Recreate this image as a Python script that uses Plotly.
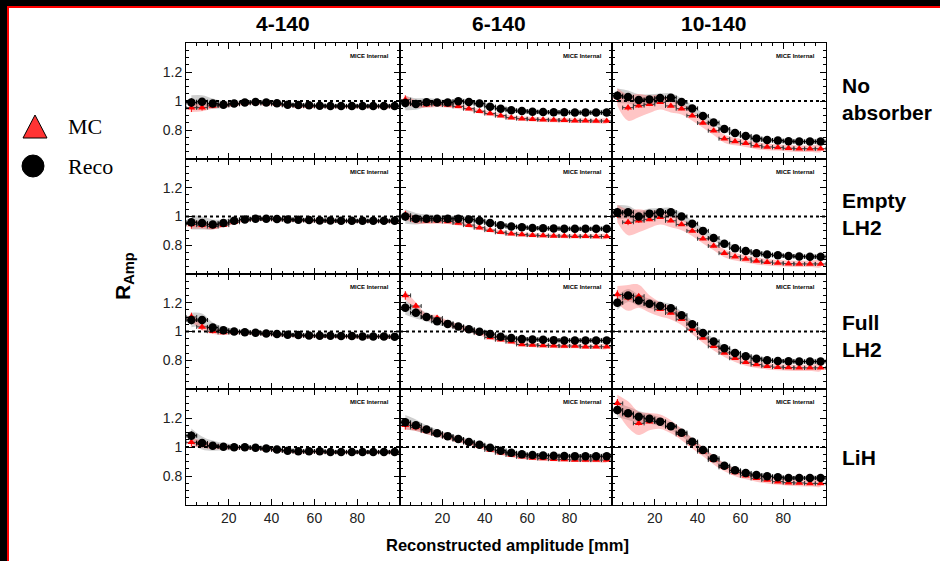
import plotly.graph_objects as go

W, H = 940, 561

amplitude = [2.5, 7.5, 12.5, 17.5, 22.5, 27.5, 32.5, 37.5, 42.5, 47.5,
             52.5, 57.5, 62.5, 67.5, 72.5, 77.5, 82.5, 87.5, 92.5, 97.5]
bin_half = [2.5] * 20

col_titles = ["4-140", "6-140", "10-140"]
row_titles = ["No<br>absorber", "Empty<br>LH2", "Full<br>LH2", "LiH"]
x_tick_vals = [20, 40, 60, 80]
y_tick_vals = [0.8, 1.0, 1.2]
y_tick_text = ["0.8", "1", "1.2"]

# ---- 4-140 ----
reco_noabs_4 = [0.989, 0.995, 0.982, 0.975, 0.982, 0.989, 0.993, 0.989, 0.984, 0.975,
                0.972, 0.970, 0.968, 0.966, 0.966, 0.966, 0.966, 0.966, 0.966, 0.966]
mc_noabs_4 = [0.954, 0.954, 0.966, 0.970, 0.977, 0.984, 0.989, 0.982, 0.977, 0.970,
              0.966, 0.964, 0.963, 0.962, 0.962, 0.962, 0.962, 0.962, 0.962, 0.962]
reco_empty_4 = [0.960, 0.955, 0.945, 0.955, 0.970, 0.980, 0.985, 0.985, 0.983, 0.980,
                0.977, 0.975, 0.973, 0.972, 0.971, 0.970, 0.970, 0.970, 0.970, 0.970]
mc_empty_4 = [0.945, 0.940, 0.930, 0.940, 0.960, 0.975, 0.982, 0.982, 0.980, 0.977,
              0.974, 0.972, 0.970, 0.969, 0.968, 0.967, 0.967, 0.967, 0.967, 0.967]
reco_full_4 = [1.080, 1.080, 1.028, 1.009, 1.000, 0.995, 0.991, 0.986, 0.982, 0.977,
               0.975, 0.972, 0.970, 0.970, 0.968, 0.968, 0.966, 0.966, 0.966, 0.963]
mc_full_4 = [1.101, 1.032, 1.002, 0.993, 0.995, 0.993, 0.989, 0.984, 0.980, 0.975,
             0.973, 0.970, 0.968, 0.968, 0.966, 0.966, 0.964, 0.964, 0.964, 0.962]
reco_lih_4 = [1.078, 1.028, 1.009, 1.002, 0.998, 0.998, 0.995, 0.989, 0.982, 0.975,
              0.970, 0.970, 0.970, 0.966, 0.966, 0.966, 0.966, 0.966, 0.966, 0.966]
mc_lih_4 = [1.032, 1.020, 1.005, 1.000, 0.996, 0.996, 0.993, 0.987, 0.980, 0.973,
            0.968, 0.968, 0.968, 0.964, 0.964, 0.964, 0.964, 0.964, 0.964, 0.964]

# ---- 6-140 ----
reco_noabs_6 = [0.986, 0.979, 0.991, 0.989, 0.989, 0.998, 0.993, 0.982, 0.961, 0.947,
                0.936, 0.931, 0.926, 0.924, 0.922, 0.922, 0.920, 0.920, 0.920, 0.920]
mc_noabs_6 = [1.009, 0.979, 0.975, 0.979, 0.972, 0.963, 0.947, 0.929, 0.913, 0.899,
              0.885, 0.878, 0.874, 0.871, 0.869, 0.867, 0.864, 0.864, 0.862, 0.862]
reco_empty_6 = [1.000, 0.985, 0.985, 0.985, 0.985, 0.985, 0.980, 0.970, 0.955, 0.940,
                0.930, 0.925, 0.920, 0.918, 0.916, 0.915, 0.914, 0.914, 0.914, 0.914]
mc_empty_6 = [1.010, 0.975, 0.970, 0.970, 0.965, 0.955, 0.940, 0.922, 0.905, 0.890,
              0.880, 0.874, 0.870, 0.867, 0.865, 0.864, 0.862, 0.862, 0.861, 0.861]
reco_full_6 = [1.166, 1.131, 1.101, 1.071, 1.053, 1.034, 1.016, 0.998, 0.982, 0.963,
               0.954, 0.947, 0.945, 0.943, 0.940, 0.938, 0.938, 0.938, 0.938, 0.938]
mc_full_6 = [1.251, 1.177, 1.101, 1.094, 1.057, 1.034, 1.011, 0.989, 0.959, 0.943,
             0.929, 0.910, 0.906, 0.903, 0.901, 0.899, 0.899, 0.894, 0.894, 0.894]
reco_lih_6 = [1.170, 1.150, 1.120, 1.095, 1.075, 1.055, 1.035, 1.015, 0.995, 0.975,
              0.960, 0.950, 0.945, 0.942, 0.940, 0.938, 0.937, 0.936, 0.936, 0.936]
mc_lih_6 = [1.150, 1.135, 1.110, 1.090, 1.070, 1.050, 1.030, 1.005, 0.980, 0.960,
            0.945, 0.932, 0.925, 0.920, 0.916, 0.913, 0.911, 0.910, 0.910, 0.910]

# ---- 10-140 ----
reco_noabs_10 = [1.037, 1.028, 1.007, 1.011, 1.021, 1.023, 0.993, 0.949, 0.897, 0.851,
                 0.807, 0.779, 0.759, 0.741, 0.731, 0.727, 0.722, 0.720, 0.720, 0.720]
mc_noabs_10 = [1.028, 0.954, 0.968, 0.977, 0.991, 0.966, 0.947, 0.899, 0.848, 0.795,
               0.740, 0.720, 0.708, 0.692, 0.683, 0.680, 0.674, 0.671, 0.671, 0.671]
reco_empty_10 = [1.030, 1.030, 1.000, 1.020, 1.030, 1.030, 1.000, 0.950, 0.900, 0.850,
                 0.810, 0.780, 0.760, 0.745, 0.735, 0.730, 0.725, 0.722, 0.720, 0.720]
mc_empty_10 = [1.020, 0.960, 0.970, 0.980, 0.995, 0.970, 0.945, 0.900, 0.845, 0.795,
               0.745, 0.720, 0.705, 0.690, 0.682, 0.676, 0.672, 0.670, 0.670, 0.670]
reco_full_10 = [1.200, 1.251, 1.216, 1.193, 1.177, 1.161, 1.113, 1.051, 0.989, 0.931,
                0.883, 0.851, 0.828, 0.811, 0.800, 0.795, 0.793, 0.791, 0.791, 0.791]
mc_full_10 = [1.257, 1.234, 1.246, 1.193, 1.154, 1.129, 1.085, 1.016, 0.954, 0.897,
              0.851, 0.814, 0.786, 0.770, 0.759, 0.752, 0.749, 0.747, 0.747, 0.747]
reco_lih_10 = [1.255, 1.232, 1.209, 1.195, 1.175, 1.143, 1.099, 1.037, 0.979, 0.922,
               0.871, 0.839, 0.821, 0.807, 0.798, 0.791, 0.786, 0.786, 0.786, 0.786]
mc_lih_10 = [1.301, 1.225, 1.163, 1.175, 1.175, 1.140, 1.087, 1.025, 0.968, 0.910,
             0.860, 0.825, 0.802, 0.784, 0.772, 0.761, 0.754, 0.752, 0.749, 0.749]

# systematic band half-widths (per amplitude range)
band_reco_4 = [0.050, 0.045, 0.035, 0.025, 0.020, 0.015, 0.012, 0.010, 0.010, 0.010,
               0.010, 0.010, 0.010, 0.010, 0.010, 0.010, 0.010, 0.010, 0.010, 0.010]
band_mc_4 = [0.030, 0.025, 0.020, 0.015, 0.012, 0.010, 0.010, 0.010, 0.010, 0.010,
             0.010, 0.010, 0.010, 0.010, 0.010, 0.010, 0.010, 0.010, 0.010, 0.010]
band_reco_6 = [0.050, 0.040, 0.030, 0.025, 0.020, 0.020, 0.018, 0.016, 0.015, 0.015,
               0.015, 0.015, 0.015, 0.015, 0.015, 0.015, 0.015, 0.015, 0.015, 0.015]
band_mc_6 = [0.030, 0.025, 0.022, 0.020, 0.018, 0.018, 0.016, 0.015, 0.015, 0.015,
             0.015, 0.015, 0.015, 0.015, 0.015, 0.015, 0.015, 0.015, 0.015, 0.015]
band_reco_10 = [0.050, 0.045, 0.040, 0.035, 0.030, 0.030, 0.025, 0.022, 0.020, 0.020,
                0.018, 0.018, 0.016, 0.016, 0.015, 0.015, 0.015, 0.015, 0.015, 0.015]
band_mc_10 = [0.060, 0.090, 0.080, 0.060, 0.050, 0.045, 0.040, 0.035, 0.032, 0.030,
              0.028, 0.026, 0.025, 0.024, 0.023, 0.022, 0.022, 0.022, 0.022, 0.022]

# statistical error bars
stat_err = [0.030, 0.020, 0.015, 0.012, 0.010, 0.010, 0.010, 0.010, 0.010, 0.010,
            0.008, 0.008, 0.008, 0.008, 0.008, 0.008, 0.008, 0.008, 0.008, 0.008]

reco_grid = [[reco_noabs_4, reco_noabs_6, reco_noabs_10],
             [reco_empty_4, reco_empty_6, reco_empty_10],
             [reco_full_4, reco_full_6, reco_full_10],
             [reco_lih_4, reco_lih_6, reco_lih_10]]
mc_grid = [[mc_noabs_4, mc_noabs_6, mc_noabs_10],
           [mc_empty_4, mc_empty_6, mc_empty_10],
           [mc_full_4, mc_full_6, mc_full_10],
           [mc_lih_4, mc_lih_6, mc_lih_10]]
band_reco = [band_reco_4, band_reco_6, band_reco_10]
band_mc = [band_mc_4, band_mc_6, band_mc_10]


def px(x):
    return x / W


def py(y):
    return 1 - y / H


col_edges = [186, 400, 612, 826]
row_edges = [43, 159, 274, 389, 505]

fig = go.Figure()
layout = dict(
    width=W, height=H, autosize=False,
    margin=dict(l=0, r=0, t=0, b=0),
    paper_bgcolor="black", plot_bgcolor="white",
    showlegend=False,
    font=dict(family="Liberation Sans, Arial, sans-serif", color="black"),
)
shapes = []
annotations = []

# white page with red frame (left/top edges visible)
shapes.append(dict(type="rect", xref="paper", yref="paper",
                   x0=px(8), x1=px(960), y0=py(580), y1=py(7),
                   fillcolor="white", line=dict(color="#ff0000", width=2),
                   layer="below"))

for r in range(4):
    for c in range(3):
        k = r * 3 + c + 1
        xa = "x" if k == 1 else f"x{k}"
        ya = "y" if k == 1 else f"y{k}"
        reco = reco_grid[r][c]
        mc = mc_grid[r][c]
        br = band_reco[c]
        bm = band_mc[c]
        # grey band (Reco)
        fig.add_trace(go.Scatter(
            x=amplitude + amplitude[::-1],
            y=[v + e for v, e in zip(reco, br)] + [v - e for v, e in zip(reco, br)][::-1],
            fill="toself", fillcolor="rgba(140,140,140,0.42)",
            line=dict(width=0, shape="spline"), mode="lines",
            xaxis=xa, yaxis=ya, hoverinfo="skip"))
        # pink band (MC)
        fig.add_trace(go.Scatter(
            x=amplitude + amplitude[::-1],
            y=[v + e for v, e in zip(mc, bm)] + [v - e for v, e in zip(mc, bm)][::-1],
            fill="toself", fillcolor="rgba(255,90,90,0.35)",
            line=dict(width=0, shape="spline"), mode="lines",
            xaxis=xa, yaxis=ya, hoverinfo="skip"))
        # MC points
        fig.add_trace(go.Scatter(
            x=amplitude, y=mc, mode="markers",
            marker=dict(symbol="triangle-up", size=7, color="#ff0000"),
            error_x=dict(type="data", array=bin_half, color="#333333", thickness=1, width=2),
            error_y=dict(type="data", array=stat_err, color="#ff0000", thickness=1, width=0),
            xaxis=xa, yaxis=ya, name="MC"))
        # Reco points
        fig.add_trace(go.Scatter(
            x=amplitude, y=reco, mode="markers",
            marker=dict(symbol="circle", size=8.5, color="black"),
            error_x=dict(type="data", array=bin_half, color="black", thickness=1, width=2),
            error_y=dict(type="data", array=stat_err, color="black", thickness=1, width=0),
            xaxis=xa, yaxis=ya, name="Reco"))

        xkey = "xaxis" if k == 1 else f"xaxis{k}"
        ykey = "yaxis" if k == 1 else f"yaxis{k}"
        layout[xkey] = dict(
            domain=[px(col_edges[c]), px(col_edges[c + 1])], anchor=ya,
            range=[0, 100], showgrid=False, zeroline=False,
            showline=True, linecolor="black", linewidth=1, mirror="ticks",
            ticks="inside", ticklen=6, tickcolor="black",
            tickvals=x_tick_vals, showticklabels=(r == 3),
            tickfont=dict(size=14, color="#222"),
            minor=dict(ticks="inside", ticklen=3, dtick=5, tick0=0, tickcolor="black"))
        layout[ykey] = dict(
            domain=[py(row_edges[r + 1]), py(row_edges[r])], anchor=xa,
            range=[0.6, 1.4], showgrid=False, zeroline=False,
            showline=True, linecolor="black", linewidth=1, mirror="ticks",
            ticks="inside", ticklen=6, tickcolor="black",
            tickvals=y_tick_vals, ticktext=y_tick_text, showticklabels=(c == 0),
            tickfont=dict(size=14, color="#222"),
            minor=dict(ticks="inside", ticklen=3, dtick=0.05, tick0=0.6, tickcolor="black"))
        # dotted line at 1
        shapes.append(dict(type="line", xref=xa, yref=ya, x0=0, x1=100, y0=1, y1=1,
                           line=dict(color="black", width=1.8, dash="dot")))
        annotations.append(dict(xref=f"{xa} domain", yref=f"{ya} domain",
                                x=0.96, y=0.93, xanchor="right", yanchor="top",
                                text="<b>MICE Internal</b>", showarrow=False,
                                font=dict(size=6, color="black")))

# column titles
for c, t in enumerate(col_titles):
    xc = [283, 499, 713][c]
    annotations.append(dict(xref="paper", yref="paper", x=px(xc), y=py(23),
                            xanchor="center", yanchor="middle",
                            text=f"<b>{t}</b>", showarrow=False,
                            font=dict(size=21, color="black")))
# row titles
for r, t in enumerate(row_titles):
    yc = [99, 214, 336, 457][r]
    annotations.append(dict(xref="paper", yref="paper", x=px(840), y=py(yc),
                            xanchor="left", yanchor="middle", align="left",
                            text=f"<b>{t}</b>", showarrow=False,
                            font=dict(size=21, color="black")))
# axis titles
annotations.append(dict(xref="paper", yref="paper", x=px(507), y=py(545),
                        xanchor="center", yanchor="middle",
                        text="<b>Reconstructed amplitude [mm]</b>", showarrow=False,
                        font=dict(size=16.5, color="black")))
annotations.append(dict(xref="paper", yref="paper", x=px(124), y=py(276),
                        xanchor="center", yanchor="middle",
                        text="<b>R<sub>Amp</sub></b>", textangle=-90, showarrow=False,
                        font=dict(size=21, color="black")))

# legend
shapes.append(dict(type="path", xref="paper", yref="paper",
                   path=f"M {px(23)} {py(138)} L {px(47)} {py(138)} L {px(35)} {py(115)} Z",
                   fillcolor="#ff3333", line=dict(color="black", width=1)))
shapes.append(dict(type="circle", xref="paper", yref="paper",
                   x0=px(22), x1=px(44), y0=py(177), y1=py(155),
                   fillcolor="black", line=dict(color="black", width=1)))
annotations.append(dict(xref="paper", yref="paper", x=px(66), y=py(127),
                        xanchor="left", yanchor="middle",
                        text="MC", showarrow=False,
                        font=dict(family="Liberation Serif, Times New Roman, serif", size=22)))
annotations.append(dict(xref="paper", yref="paper", x=px(66), y=py(166),
                        xanchor="left", yanchor="middle",
                        text="Reco", showarrow=False,
                        font=dict(family="Liberation Serif, Times New Roman, serif", size=22)))

layout["shapes"] = shapes
layout["annotations"] = annotations
fig.update_layout(**layout)

page_style = ("document.documentElement.style.background='black';"
              "document.body.style.margin='0';"
              "document.body.style.background='black';"
              "document.body.style.overflow='hidden';")
fig.write_html("out.html", post_script=page_style,
               config={"displayModeBar": False, "staticPlot": True})
